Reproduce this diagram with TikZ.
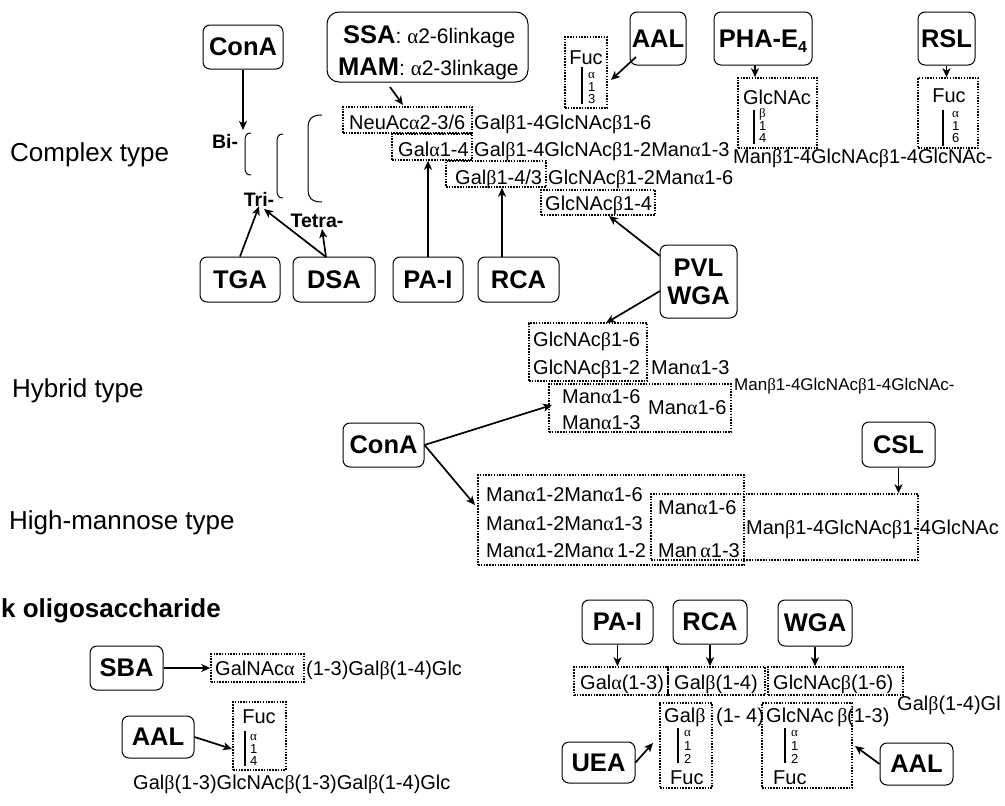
\documentclass[tikz,border=0pt]{standalone}
\usepackage{fontspec}
\setmainfont{Liberation Sans}
\newfontfamily\grkfont{Liberation Serif}
\usetikzlibrary{arrows.meta,fit}
\newcommand\xal{{\grkfont α}}
\newcommand\xbe{{\grkfont β}}
\newcommand\lectinfont{\fontsize{25.5}{28}\selectfont\bfseries}
\newcommand\sugarfont{\fontsize{20}{22}\selectfont}
\newcommand\smallsugarfont{\fontsize{17}{19}\selectfont}
\newcommand\typefont{\fontsize{26}{28}\selectfont}
\newcommand\linkfont{\fontsize{13}{14}\selectfont}
\newcommand\markfont{\fontsize{19.5}{21}\selectfont\bfseries}
\begin{document}
\begin{tikzpicture}[x=1pt,y=-1pt,
  lectin/.style={draw, line width=1pt, rounded corners=7pt, font=\lectinfont, inner sep=0pt, align=center},
  dotbox/.style={draw, line width=1.5pt, dash pattern=on 1.5pt off 1.3pt, inner sep=0pt},
  sugar/.style={font=\sugarfont, inner sep=0pt, anchor=base west},
  sugarc/.style={font=\sugarfont, inner sep=0pt, anchor=base},
  linklbl/.style={font=\linkfont, inner sep=0pt, anchor=west},
  bond/.style={line width=1.8pt},
  arr/.style={line width=1.7pt, -{Stealth[length=9pt,width=8pt,inset=2.5pt]}},
  bracket/.style={line width=1pt},
  typelabel/.style={font=\typefont, inner sep=0pt, anchor=base west},
  tiermark/.style={font=\markfont, inner sep=0pt},
]
\useasboundingbox[fill=white] (0,0) rectangle (1005,806);

% ---------- row labels
\node[typelabel] (lcomplex) at (10,161) {Complex type};
\node[typelabel] (lhybrid) at (12,397) {Hybrid type};
\node[typelabel] (lhigh) at (9,529) {High-mannose type};
\node[typelabel, font=\typefont\bfseries] (lmilk) at (1,617) {k oligosaccharide};

% ---------- complex type: lectins
\node[lectin, minimum width=80pt, minimum height=44pt] (conA1) at (243,47) {ConA};
\node[lectin, rounded corners=12pt, fit={(327,12) (528,82)}] (ssa) {};
\node[inner sep=0pt, anchor=base west] (ssa1) at (343,43)
  {{\lectinfont SSA}{\fontsize{21}{22}\selectfont: \xal2-6linkage}};
\node[inner sep=0pt, anchor=base west] (ssa2) at (338,75)
  {{\lectinfont MAM}{\fontsize{21}{22}\selectfont: \xal2-3linkage}};
\node[lectin, minimum width=56pt, minimum height=53pt] (aal1) at (658,38.5) {AAL};
\node[lectin, minimum width=98pt, minimum height=53pt] (pha) at (763,38.5)
  {PHA-E\raisebox{-5pt}[0pt][0pt]{\fontsize{16}{16}\selectfont 4}};
\node[lectin, minimum width=57pt, minimum height=53pt] (rsl) at (946.5,38.5) {RSL};

\node[lectin, minimum width=80pt, minimum height=45pt] (tga) at (240,279.5) {TGA};
\node[lectin, minimum width=82pt, minimum height=45pt] (dsa) at (334,279.5) {DSA};
\node[lectin, minimum width=70pt, minimum height=45pt] (pai) at (428,279.5) {PA-I};
\node[lectin, minimum width=81pt, minimum height=45pt] (rca) at (518.5,279.5) {RCA};
\node[lectin, minimum width=77pt, minimum height=73pt] (pvl) at (698.5,281.5) {PVL\\WGA};

% ---------- complex type: antennae
\node[tiermark] (bi) at (225,141) {Bi-};
\node[tiermark] (tri) at (259,199) {Tri-};
\node[tiermark] (tetra) at (317,221) {Tetra-};
\draw[bracket] (251,133) .. controls (246,133) and (245,136) .. (245,141) -- (245,167) .. controls (245,172) and (246,175) .. (251,175);
\draw[bracket] (283,134) .. controls (278,134) and (277,137) .. (277,142) -- (277,190) .. controls (277,195) and (278,198) .. (283,198);
\draw[bracket] (322,115) .. controls (311,115) and (308,120) .. (308,127) -- (308,190) .. controls (308,197) and (311,202) .. (322,202);

% ---------- complex type: sugar chains
\node[dotbox, fit={(343,107) (472,133)}] (neu) {};
\node[sugar] (tneu) at (349,129) {NeuAc\xal2-3/6};
\node[sugar] (tarmA) at (474,129) {Gal\xbe1-4GlcNAc\xbe1-6};
\node[dotbox, fit={(392,134) (472,160)}] (gala) {};
\node[sugar] (tgala) at (398,156) {Gal\xal1-4};
\node[sugar] (tarmB) at (474,156) {Gal\xbe1-4GlcNAc\xbe1-2Man\xal1-3};
\node[dotbox, fit={(446,161) (546,187)}] (galb) {};
\node[sugar] (tgalb) at (455,184) {Gal\xbe1-4/3};
\node[sugar] (tarmC) at (548,184) {GlcNAc\xbe1-2Man\xal1-6};
\node[dotbox, fit={(541,190) (655,215)}] (glc4) {};
\node[sugar] (tglc4) at (545,210) {GlcNAc\xbe1-4};
\node[sugar] (tcore1) at (733,163) {Man\xbe1-4GlcNAc\xbe1-4GlcNAc-};

\node[dotbox, fit={(565,37) (607,108)}] (fuc1) {};
\node[sugarc] (tfuc1) at (586,64) {Fuc};
\draw[bond] (582,67) -- (582,104);
\node[linklbl] (fuc1a) at (588,75) {\xal};
\node[linklbl] (fuc1b) at (588,87) {1};
\node[linklbl] (fuc1c) at (588,99) {3};

\node[dotbox, fit={(738,78) (817,148)}] (phaglc) {};
\node[sugarc] (tphaglc) at (777,104) {GlcNAc};
\draw[bond] (754,110) -- (754,144);
\node[linklbl] (pha1) at (759,114) {\xbe};
\node[linklbl] (pha2) at (759,126) {1};
\node[linklbl] (pha3) at (759,138) {4};

\node[dotbox, fit={(918,78) (978,148)}] (fuc2) {};
\node[sugarc] (tfuc2) at (949,102) {Fuc};
\draw[bond] (943,110) -- (943,146);
\node[linklbl] (fuc2a) at (952,114) {\xal};
\node[linklbl] (fuc2b) at (952,126) {1};
\node[linklbl] (fuc2c) at (952,138) {6};

% ---------- complex type: arrows
\coordinate (bitip) at (243,130);
\draw[arr] (conA1.south) -- (bitip);
\coordinate (ssatail) at (390,87);
\coordinate (neutip) at (403,105);
\draw[arr] (ssatail) -- (neutip);
\coordinate (aaltail) at (636,57);
\coordinate (fuc1tip) at (611,80);
\draw[arr] (aaltail) -- (fuc1tip);
\coordinate (phax) at (755,65);
\draw[arr] (phax) -- (phax |- phaglc.north);
\draw[arr] (rsl.south) -- (rsl.south |- fuc2.north);

\draw[arr] (tga.north) -- (tri.south);
\coordinate (dsatail) at (326,257);
\coordinate (tritip) at (264,209);
\coordinate (tetratip) at (322,229);
\draw[arr] (dsatail) -- (tritip);
\draw[arr] (dsatail) -- (tetratip);
\draw[arr] (pai.north) -- (pai.north |- gala.south);
\coordinate (rcatail) at (502,257);
\draw[arr] (rcatail) -- (rcatail |- galb.south);
\coordinate (pvltail1) at (660,256);
\coordinate (glc4tip) at (609,216);
\draw[arr] (pvltail1) -- (glc4tip);
\coordinate (pvltail2) at (660,291);
\coordinate (hglctip) at (606,323);
\draw[arr] (pvltail2) -- (hglctip);

% ---------- hybrid type
\node[dotbox, fit={(529,323) (647,381)}] (hglc) {};
\node[sugar] (th1) at (533,346) {GlcNAc\xbe1-6};
\node[sugar] (th2) at (533,374) {GlcNAc\xbe1-2};
\node[sugar] (th3) at (651,374) {Man\xal1-3};
\node[dotbox, fit={(549,384) (731,432)}] (hman) {};
\node[sugar] (th4) at (562,403) {Man\xal1-6};
\node[sugar] (th5) at (562,429) {Man\xal1-3};
\node[sugar] (th6) at (648,414) {Man\xal1-6};
\node[sugar, font=\smallsugarfont] (tcore2) at (734,390) {Man\xbe1-4GlcNAc\xbe1-4GlcNAc-};

\node[lectin, minimum width=81pt, minimum height=44pt] (conA2) at (383.5,445) {ConA};
\coordinate (hmantip) at (552,405);
\draw[arr] (conA2.east) -- (hmantip);
\coordinate (hmtip) at (475,505);
\draw[arr] (conA2.east) -- (hmtip);

% ---------- high-mannose type
\node[dotbox, fit={(478,475) (744,565)}] (hm1) {};
\node[dotbox, fit={(651,494) (918,560)}] (hm2) {};
\node[sugar] (tm1) at (486,501) {Man\xal1-2Man\xal1-6};
\node[sugar] (tm2) at (486,530) {Man\xal1-2Man\xal1-3};
\node[sugar] (tm3) at (486,557) {Man\xal1-2Man\xal\,1-2};
\node[sugar] (tm4) at (658,514) {Man\xal1-6};
\node[sugar] (tm5) at (658,557) {Man\,\xal1-3};
\node[sugar] (tcore3) at (746,534) {Man\xbe1-4GlcNAc\xbe1-4GlcNAc};
\node[lectin, minimum width=73pt, minimum height=45pt] (csl) at (898.5,444.5) {CSL};
\draw[arr] (csl.south) -- (csl.south |- hm2.north);

% ---------- milk oligosaccharides, left
\node[lectin, minimum width=73pt, minimum height=44pt] (sba) at (126.5,668) {SBA};
\node[dotbox, fit={(211,654) (304,682)}] (galnac) {};
\node[sugar] (tgalnac) at (215,675) {GalNAc\xal};
\node[sugar] (tgalnac2) at (306,675) {(1-3)Gal\xbe(1-4)Glc};
\draw[arr] (sba.east) -- (sba.east -| galnac.west);

\node[lectin, minimum width=72pt, minimum height=42pt] (aal2) at (158,737) {AAL};
\node[dotbox, fit={(233,702) (286,770)}] (fuc3) {};
\node[sugarc] (tfuc3) at (259,723) {Fuc};
\draw[bond] (245,731) -- (245,766);
\node[linklbl] (fuc3a) at (250,737) {\xal};
\node[linklbl] (fuc3b) at (250,749) {1};
\node[linklbl] (fuc3c) at (250,761) {4};
\coordinate (fuc3tip) at (232,749);
\draw[arr] (aal2.east) -- (fuc3tip);
\node[sugar] (tlnfp) at (133,789) {Gal\xbe(1-3)GlcNAc\xbe(1-3)Gal\xbe(1-4)Glc};

% ---------- milk oligosaccharides, right
\node[lectin, minimum width=71pt, minimum height=44pt] (pai2) at (617.5,622) {PA-I};
\node[lectin, minimum width=74pt, minimum height=44pt] (rca2) at (710,622) {RCA};
\node[lectin, minimum width=74pt, minimum height=46pt] (wga2) at (815,623) {WGA};
\node[dotbox, fit={(574,667) (668,695)}] (ga13) {};
\node[dotbox, fit={(668,667) (765,695)}] (gb14) {};
\node[dotbox, fit={(768,667) (903,695)}] (gn16) {};
\node[sugar] (tga13) at (580,689) {Gal\xal(1-3)};
\node[sugar] (tgb14) at (674,689) {Gal\xbe(1-4)};
\node[sugar] (tgn16) at (773,689) {GlcNAc\xbe(1-6)};
\node[sugar] (tgalglc) at (897,710) {Gal\xbe(1-4)Gl};
\draw[arr] (pai2.south) -- (pai2.south |- ga13.north);
\draw[arr] (rca2.south) -- (rca2.south |- gb14.north);
\draw[arr] (wga2.south) -- (wga2.south |- gn16.north);

\node[dotbox, fit={(660,703) (712,788)}] (galbf) {};
\node[sugar] (tgalbf) at (664,722) {Gal\xbe};
\node[sugar] (tgalbf2) at (716,722) {(1- 4)};
\draw[bond] (678,728) -- (678,763);
\node[linklbl] (galbfa) at (684,733) {\xal};
\node[linklbl] (galbfb) at (684,746) {1};
\node[linklbl] (galbfc) at (684,759) {2};
\node[sugar] (tgalbf3) at (670,784) {Fuc};

\node[dotbox, fit={(762,703) (852,788)}] (gnf) {};
\node[sugar] (tgnf) at (766,722) {GlcNAc\,\xbe};
\node[sugar] (tgnf2) at (847,722) {(1-3)};
\draw[bond] (785,728) -- (785,763);
\node[linklbl] (gnfa) at (791,733) {\xal};
\node[linklbl] (gnfb) at (791,746) {1};
\node[linklbl] (gnfc) at (791,759) {2};
\node[sugar] (tgnf3) at (773,784) {Fuc};

\node[lectin, minimum width=73pt, minimum height=41pt] (uea) at (598.5,762.5) {UEA};
\coordinate (ueatip) at (653,743);
\draw[arr] (uea.east) -- (ueatip);
\node[lectin, minimum width=73pt, minimum height=42pt] (aal3) at (916.5,764) {AAL};
\coordinate (aal3tip) at (855,746);
\draw[arr] (aal3.west) -- (aal3tip);
\end{tikzpicture}
\end{document}
